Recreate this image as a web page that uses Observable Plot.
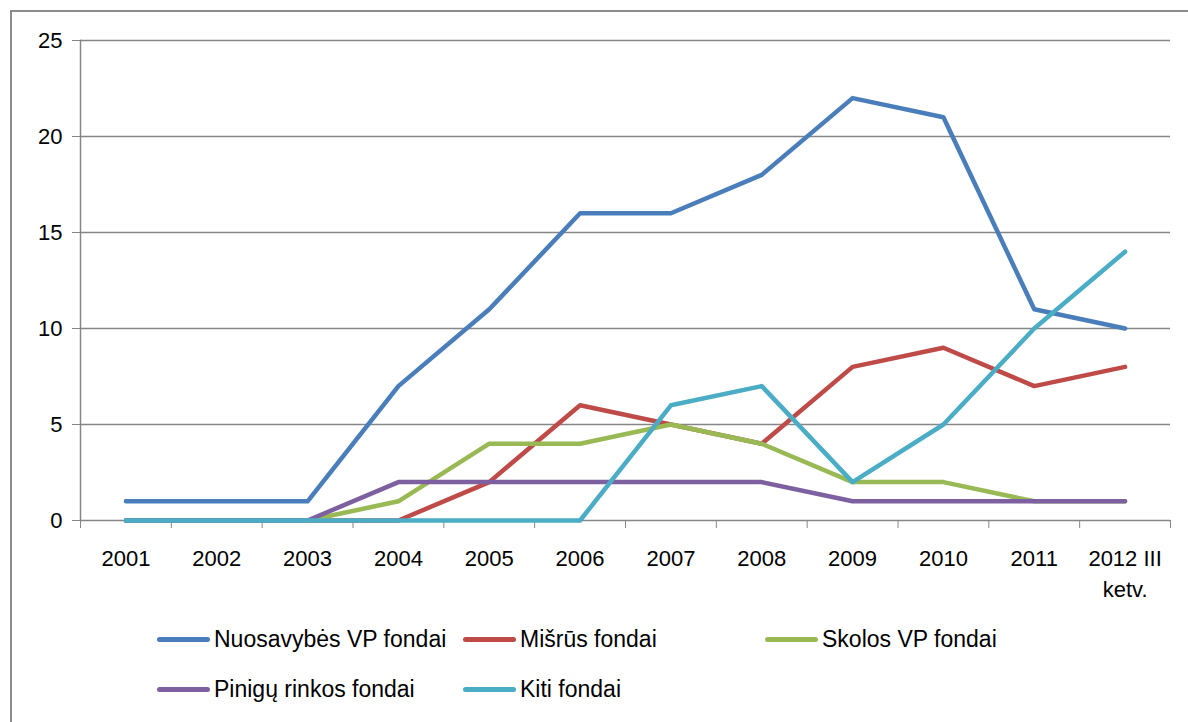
<!DOCTYPE html>
<html>
<head>
<meta charset="utf-8">
<script src="https://cdn.jsdelivr.net/npm/d3@7"></script>
<script src="https://cdn.jsdelivr.net/npm/@observablehq/plot@0.6"></script>
<style>
  html, body { margin: 0; padding: 0; background: #fff; }
  #wrap { position: relative; width: 1188px; height: 722px; overflow: hidden; font-family: "Liberation Sans", Arial, sans-serif; }
  #border { position: absolute; left: 10px; top: 10px; width: 1200px; height: 730px; border: 2px solid #8c8c8c; box-sizing: border-box; }
  #chart { position: absolute; left: 0; top: 0; }
  .leg { position: absolute; display: flex; align-items: center; font-size: 23px; color: #000; white-space: nowrap; }
  .sw { width: 53px; height: 5px; border-radius: 3px; margin-right: 4px; }
</style>
</head>
<body>
<div id="wrap">
  <div id="border"></div>
  <div id="chart"></div>
  <div id="legend"></div>
</div>
<script>
const categories = ["2001","2002","2003","2004","2005","2006","2007","2008","2009","2010","2011","2012 III\nketv."];
const seriesNames = ["Nuosavybės VP fondai","Mišrūs fondai","Skolos VP fondai","Pinigų rinkos fondai","Kiti fondai"];
const nuosavybes = [1,1,1,7,11,16,16,18,22,21,11,10];
const misrus     = [0,0,0,0,2,6,5,4,8,9,7,8];
const skolos     = [0,0,0,1,4,4,5,4,2,2,1,1];
const piniguRinkos = [0,0,0,2,2,2,2,2,1,1,1,1];
const kiti       = [0,0,0,0,0,0,6,7,2,5,10,14];
const yTicks = [0,5,10,15,20,25];
const colors = ["#4a7ebb","#be4b48","#98b954","#7d60a0","#4bacc6"];

const allSeries = [nuosavybes, misrus, skolos, piniguRinkos, kiti];
const data = [];
allSeries.forEach((vals, s) => vals.forEach((v, i) => data.push({series: seriesNames[s], i, value: v})));

const boundaries = d3.range(categories.length + 1).map(k => k - 0.5);
const centers = d3.range(categories.length);

const chart = Plot.plot({
  width: 1188,
  height: 620,
  marginLeft: 80,
  marginRight: 18,
  marginTop: 40,
  marginBottom: 100,
  style: {fontFamily: "Liberation Sans, Arial, sans-serif", fontSize: "22px", color: "#000", background: "transparent", overflow: "visible"},
  x: {type: "linear", domain: [-0.5, categories.length - 0.5]},
  y: {domain: [0, 25]},
  color: {domain: seriesNames, range: colors},
  marks: [
    Plot.ruleY(yTicks, {stroke: "#868686", strokeWidth: 1.5, strokeOpacity: 1}),
    Plot.frame({anchor: "left", stroke: "#868686", strokeWidth: 1.5, strokeOpacity: 1}),
    Plot.axisY({ticks: yTicks, tickSize: 8, tickPadding: 10, stroke: "#868686", strokeOpacity: 1, tickFormat: d => String(d), fill: "#000", label: null}),
    Plot.axisX({ticks: boundaries, tickSize: 8, tickFormat: () => "", stroke: "#868686", strokeOpacity: 1, label: null}),
    Plot.axisX({ticks: centers, tickSize: 0, tickPadding: 24, tickFormat: i => categories[i], fill: "#000", lineHeight: 1.4, label: null}),
    Plot.line(data, {x: "i", y: "value", z: "series", stroke: "series", strokeWidth: 4.5, strokeLinecap: "round", strokeLinejoin: "round", strokeOpacity: 1})
  ]
});
document.getElementById("chart").appendChild(chart);

const legendPos = [[157,640],[463,640],[765,640],[157,690],[463,690]];
const legend = document.getElementById("legend");
seriesNames.forEach((name, k) => {
  const el = document.createElement("div");
  el.className = "leg";
  el.style.left = legendPos[k][0] + "px";
  el.style.top = (legendPos[k][1] - 14) + "px";
  el.innerHTML = `<div class="sw" style="background:${colors[k]}"></div><span>${name}</span>`;
  legend.appendChild(el);
});
</script>
</body>
</html>
